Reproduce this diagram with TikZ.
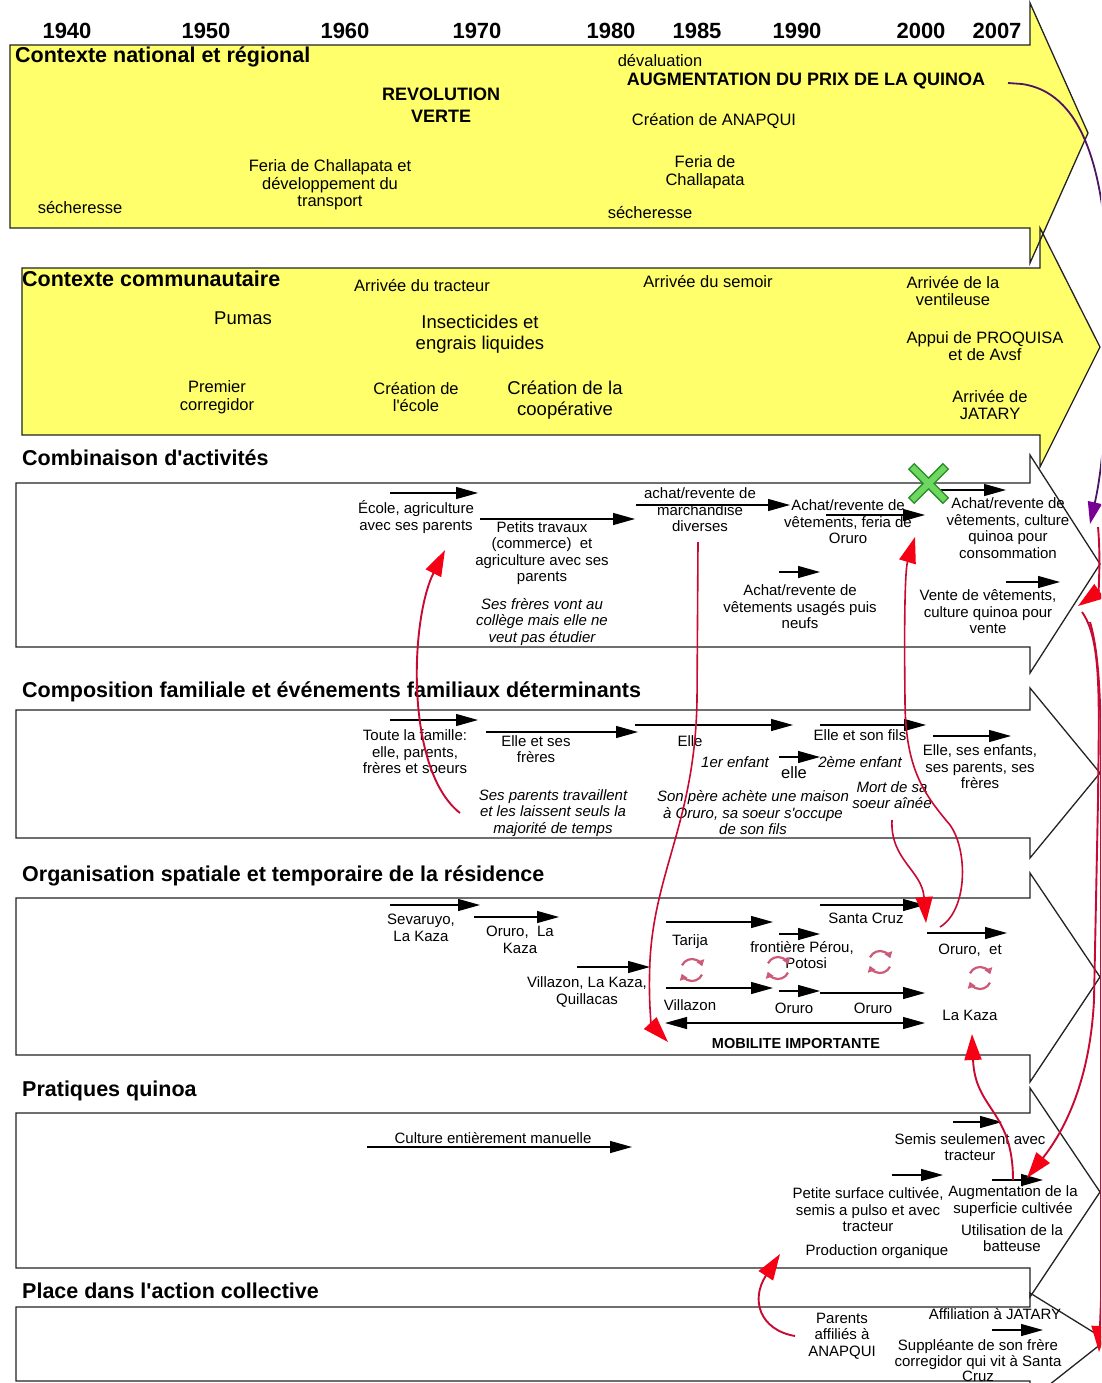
\documentclass[tikz,border=0pt]{standalone}
\usepackage{fontspec}
\setmainfont{Liberation Sans}
\usetikzlibrary{arrows.meta}

\definecolor{bandyellow}{RGB}{255,255,108}
\definecolor{framegray}{RGB}{35,35,35}
\definecolor{inflred}{RGB}{200,10,50}
\definecolor{headred}{RGB}{245,0,20}
\definecolor{pricepurple}{RGB}{80,20,100}
\definecolor{headpurple}{RGB}{120,0,150}
\definecolor{reloadpink}{RGB}{205,90,120}
\definecolor{crossgreen}{RGB}{110,215,95}
\definecolor{crossdark}{RGB}{40,140,40}

\tikzset{
  year/.style={inner sep=0pt, font=\bfseries\fontsize{22}{24}\selectfont},
  bandtitle/.style={anchor=west, inner sep=0pt, font=\bfseries\fontsize{21.5}{24}\selectfont},
  ctx/.style={align=center, inner sep=0pt, font=\fontsize{16.5}{17.5}\selectfont},
  ctxbold/.style={align=center, inner sep=0pt, font=\bfseries\fontsize{18}{22}\selectfont},
  big/.style={align=center, inner sep=0pt, font=\fontsize{18.5}{20.5}\selectfont},
  lbl/.style={align=center, inner sep=0pt, font=\fontsize{15}{16.5}\selectfont},
  note/.style={align=center, inner sep=0pt, font=\itshape\fontsize{15}{16.5}\selectfont},
  frame/.style={draw=framegray, line width=1.3pt, line join=miter},
  tl/.style={line width=1.2pt, -{Triangle[length=22pt,width=12pt]}},
  infl/.style={draw=inflred, line width=1.9pt, -{Triangle[length=26pt,width=17pt,color=headred]}},
  reload/.pic={
    \draw[reloadpink, line width=2.2pt, -{Triangle[length=6pt,width=8pt]}]
      (25:11) arc[start angle=25, end angle=160, radius=11];
    \draw[reloadpink, line width=2.2pt, -{Triangle[length=6pt,width=8pt]}]
      (205:11) arc[start angle=205, end angle=340, radius=11];
  }
}

\def\bandlist{10/1030/45/228/3/263/1088/133/bandyellow,
  22/1040/268/435/228/467/1100/347/bandyellow,
  16/1030/483/647/455/673/1100/564/white,
  16/1030/710/838/688/858/1100/773/white,
  16/1030/898/1055/873/1082/1100/977/white,
  16/1030/1113/1268/1088/1297/1100/1192/white,
  16/1030/1307/1381/1293/1400/1106/1340/white}

\begin{document}
\begin{tikzpicture}[x=1pt, y=-1pt]
  \useasboundingbox[fill=white] (0,0) rectangle (1101,1383);
  \clip (0,0) rectangle (1101,1383);

  % Bands (fills first, outlines after)
  \foreach \xa/\xb/\ya/\yb/\ha/\hb/\tx/\ty/\col in \bandlist
    \fill[\col] (\xa,\ya) -- (\xb,\ya) -- (\xb,\ha) -- (\tx,\ty) -- (\xb,\hb)
      -- (\xb,\yb) -- (\xa,\yb) -- cycle;
  \foreach \xa/\xb/\ya/\yb/\ha/\hb/\tx/\ty/\col in \bandlist
    \draw[frame] (\xa,\ya) -- (\xb,\ya) -- (\xb,\ha) -- (\tx,\ty) -- (\xb,\hb)
      -- (\xb,\yb) -- (\xa,\yb) -- cycle;

  % Years
  \foreach \yr/\xp in {1940/67,1950/206,1960/345,1970/477,1980/611,1985/697,1990/797,2000/921,2007/997}
    \node[year] (y\yr) at (\xp,31) {\yr};

  % Band titles
  \node[bandtitle] (tnat) at (15,57) {Contexte national et régional};
  \node[bandtitle] (tcom) at (22,279) {Contexte communautaire};
  \node[bandtitle] (tact) at (22,458) {Combinaison d\textquotesingle activités};
  \node[bandtitle] (tfam) at (22,692) {Composition familiale et événements familiaux déterminants};
  \node[bandtitle] (tres) at (22,876) {Organisation spatiale et temporaire de la résidence};
  \node[bandtitle] (tqui) at (22,1091) {Pratiques quinoa};
  \node[bandtitle] (tcol) at (22,1291) {Place dans l\textquotesingle action collective};

  % Contexte national et regional
  \node[ctx] (deval) at (660,61) {dévaluation};
  \node[ctxbold] (prix) at (806,81) {AUGMENTATION DU PRIX DE LA QUINOA};
  \node[ctxbold] (revol) at (441,105) {REVOLUTION\\VERTE};
  \node[ctx] (anapqui) at (714,121) {Création de ANAPQUI};
  \node[ctx] (feria1) at (330,185) {Feria de Challapata et\\développement du\\transport};
  \node[ctx] (feria2) at (705,172) {Feria de\\Challapata};
  \node[ctx] (sech1) at (80,208) {sécheresse};
  \node[ctx] (sech2) at (650,213) {sécheresse};

  % Contexte communautaire
  \node[ctx] (tracteur) at (422,286) {Arrivée du tracteur};
  \node[big] (pumas) at (243,318) {Pumas};
  \node[big] (insect) at (480,334) {Insecticides et\\engrais liquides};
  \node[ctx] (corr) at (217,397) {Premier\\corregidor};
  \node[ctx] (ecole) at (416,397) {Création de\\l\textquotesingle école};
  \node[big] (coop) at (565,400) {Création de la\\coopérative};
  \node[ctx] (semoir) at (708,282) {Arrivée du semoir};
  \node[ctx] (ventil) at (953,291) {Arrivée de la\\ventileuse};
  \node[ctx] (proq) at (985,346) {Appui de PROQUISA\\et de Avsf};
  \node[ctx] (jatary) at (990,405) {Arrivée de\\JATARY};

  % Combinaison d'activites
  \node[lbl] (act1) at (416,517) {École, agriculture\\avec ses parents};
  \node[lbl] (act2) at (542,553) {Petits travaux\\(commerce)~ et\\agriculture avec ses\\parents};
  \node[note] (act2n) at (542,622) {Ses frères vont au\\collège mais elle ne\\veut pas étudier};
  \node[lbl] (act3) at (700,510) {achat/revente de\\marchandise\\diverses};
  \node[lbl] (act4) at (848,522) {Achat/revente de\\vêtements, feria de\\Oruro};
  \node[lbl] (act5) at (1008,528) {Achat/revente de\\vêtements, culture\\quinoa pour\\consommation};
  \node[lbl] (act6) at (800,607) {Achat/revente de\\vêtements usagés puis\\neufs};
  \node[lbl] (act7) at (988,612) {Vente de vêtements,\\culture quinoa pour\\vente};

  % Composition familiale
  \node[lbl] (fam1) at (415,752) {Toute la famille:\\elle, parents,\\frères et soeurs};
  \node[lbl] (fam2) at (536,749) {Elle et ses\\frères};
  \node[lbl] (fam3) at (690,741) {Elle};
  \node[note] (enf1) at (735,762) {1er enfant};
  \node[ctx] (fam4) at (794,773) {elle};
  \node[note] (enf2) at (860,762) {2ème enfant};
  \node[lbl] (fam5) at (860,735) {Elle et son fils};
  \node[lbl] (fam6) at (980,767) {Elle, ses enfants,\\ses parents, ses\\frères};
  \node[note] (fam1n) at (553,813) {Ses parents travaillent\\et les laissent seuls la\\majorité de temps};
  \node[note] (fam3n) at (753,813) {Son père achète une maison\\à Oruro, sa soeur s\textquotesingle occupe\\de son fils};
  \node[note] (mort) at (892,795) {Mort de sa\\soeur aînée};

  % Organisation de la residence
  \node[lbl] (res1) at (421,928) {Sevaruyo,\\La Kaza};
  \node[lbl] (res2) at (520,940) {Oruro,\ \ La\\Kaza};
  \node[lbl] (res3) at (587,992) {Villazon, La Kaza,\\Quillacas};
  \node[lbl] (tarija) at (690,942) {Tarija};
  \node[lbl] (villa) at (690,1005) {Villazon};
  \node[lbl] (front) at (802,955) {frontière Pérou,\\\ \ Potosi};
  \node[lbl] (oruro1) at (794,1008) {Oruro};
  \node[lbl] (oruro2) at (873,1008) {Oruro};
  \node[lbl] (santa) at (866,918) {Santa Cruz};
  \node[lbl] (oruro3) at (970,950) {Oruro,\ \ et};
  \node[lbl] (kaza) at (970,1015) {La Kaza};
  \node[lbl, font=\bfseries\fontsize{14.5}{16}\selectfont] (mobil) at (796,1043) {MOBILITE IMPORTANTE};

  % Pratiques quinoa
  \node[lbl] (qui1) at (493,1138) {Culture entièrement manuelle};
  \node[lbl] (qui2) at (970,1147) {Semis seulement avec\\tracteur};
  \node[lbl] (qui3) at (868,1210) {Petite surface cultivée,\\semis a pulso et avec\\tracteur};
  \node[lbl] (qui4) at (1013,1201) {Augmentation de la\\superficie cultivée};
  \node[lbl] (qui5) at (1012,1238) {Utilisation de la\\batteuse};
  \node[lbl] (qui6) at (877,1252) {Production organique};

  % Action collective
  \node[lbl] (col1) at (842,1336) {Parents\\affiliés à\\ANAPQUI};
  \node[lbl] (col2) at (995,1314) {Affiliation à JATARY};
  \node[lbl, font=\fontsize{15}{15.5}\selectfont] (col3) at (978,1361) {Suppléante de son frère\\corregidor qui vit à Santa\\Cruz};

  % Timeline arrows
  \foreach \n/\xa/\xb/\y in {a1/390/478/493, a2/480/635/519, a3/636/790/505,
      a4/826/925/515, a5/940/1006/490, a6/779/820/572, a7/1006/1060/582,
      f1/390/478/720, f2/486/638/732, f3/635/793/725, f4/779/820/757,
      f5/820/926/725, f6/933/1011/736,
      r1/390/480/905, r2/474/559/917, r3/577/650/967, r4/666/773/922,
      r5/779/820/934, r6/820/925/905, r7/666/773/988, r8/779/820/991,
      r9/820/925/993, r10/927/1007/933,
      q1/367/632/1147, q2/953/1002/1122, q3/892/943/1175, q4/992/1043/1180,
      c1/992/1043/1330} {
    \coordinate (\n s) at (\xa,\y);
    \coordinate (\n e) at (\xb,\y);
    \draw[tl] (\n s) -- (\n e);
  }
  \coordinate (mob1) at (665,1023);
  \coordinate (mob2) at (925,1023);
  \draw[tl, {Triangle[length=22pt,width=12pt]}-{Triangle[length=22pt,width=12pt]}] (mob1) -- (mob2);

  % Reload symbols
  \foreach \xp/\yp in {692/970, 778/968, 880/962, 980/978}
    \pic at (\xp,\yp) {reload};

  % Green cross
  \draw[crossdark, line width=9pt] (911,466) -- (946,501) (946,466) -- (911,501);
  \draw[crossgreen, line width=6pt] (912,467) -- (945,500) (945,467) -- (912,500);

  % Influence arrows
  \coordinate (ra1) at (460,813);  \coordinate (ra2) at (445,550);
  \coordinate (rb1) at (698,542);  \coordinate (rb2) at (668,1042);
  \coordinate (rc1) at (940,927);  \coordinate (rc2) at (915,537);
  \coordinate (rd1) at (892,820);  \coordinate (rd2) at (926,923);
  \coordinate (re1) at (1013,1180); \coordinate (re2) at (972,1034);
  \coordinate (rf1) at (1098,527); \coordinate (rf2) at (1078,606);
  \coordinate (rg1) at (1082,612); \coordinate (rg2) at (1027,1178);
  \coordinate (rh1) at (1090,622); \coordinate (rh2) at (1099,1352);
  \coordinate (ri1) at (795,1336); \coordinate (ri2) at (780,1254);
  \coordinate (pp1) at (1008,83);  \coordinate (pp2) at (1090,524);

  \draw[infl] (ra1) .. controls (405,770) and (410,620) .. (ra2);
  \draw[infl, line width=1.6pt] (rb1) -- (697,700) .. controls (695,820) and (655,870) .. (650,960)
    .. controls (648,1005) and (652,1025) .. (rb2);
  \draw[infl, line width=1.6pt] (rc1) .. controls (968,910) and (968,850) .. (950,825)
    .. controls (925,795) and (905,770) .. (905,700) .. controls (904,620) and (905,570) .. (rc2);
  \draw[infl, line width=1.6pt] (rd1) .. controls (890,860) and (922,870) .. (rd2);
  \draw[infl] (re1) .. controls (1013,1110) and (975,1110) .. (re2);
  \draw[infl] (rf1) .. controls (1101,560) and (1098,592) .. (rf2);
  \draw[infl] (rg1) .. controls (1102,640) and (1099,700) .. (1098,800) -- (1094,1000)
    .. controls (1090,1080) and (1065,1130) .. (rg2);
  \draw[infl] (rh1) .. controls (1101,660) and (1101,720) .. (1101,800) -- (1101,1300) -- (rh2);
  \draw[infl] (ri1) .. controls (760,1330) and (750,1300) .. (ri2);

  % Price increase
  \draw[pricepurple, line width=1.8pt, -{Triangle[length=22pt,width=14pt,color=headpurple]}]
    (pp1) -- (1022,84) .. controls (1078,92) and (1108,160) .. (1108,300)
    .. controls (1108,430) and (1100,480) .. (pp2);
\end{tikzpicture}
\end{document}
